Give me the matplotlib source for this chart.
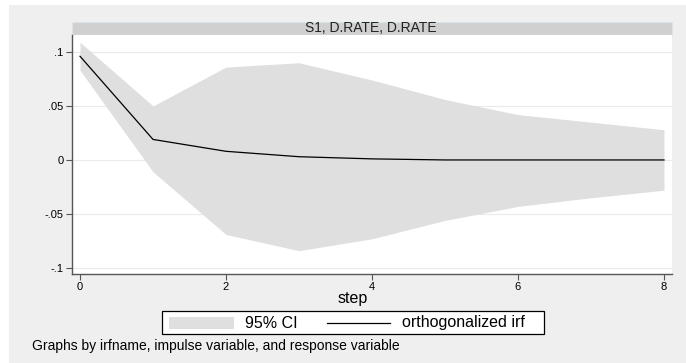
import matplotlib
matplotlib.use("Agg")
import matplotlib.pyplot as plt
from matplotlib.patches import Rectangle
from matplotlib.lines import Line2D

plt.rcParams['font.family'] = ['Liberation Sans', 'DejaVu Sans']

# ---- data ----
step = [0, 1, 2, 3, 4, 5, 6, 7, 8]
irf = [0.096, 0.019, 0.008, 0.003, 0.001, 0.0, 0.0, 0.0, 0.0]
ci_upper = [0.109, 0.050, 0.086, 0.090, 0.074, 0.056, 0.042, 0.035, 0.028]
ci_lower = [0.083, -0.011, -0.069, -0.084, -0.073, -0.056, -0.043, -0.035, -0.028]
yticks = [-0.1, -0.05, 0, 0.05, 0.1]
ytick_labels = ["-.1", "-.05", "0", ".05", ".1"]
xticks = [0, 2, 4, 6, 8]
panel_title = "S1, D.RATE, D.RATE"
xlabel = "step"
legend_labels = ["95% CI", "orthogonalized irf"]
note = "Graphs by irfname, impulse variable, and response variable"

W, H = 686, 363
fig = plt.figure(figsize=(W / 100, H / 100), dpi=100, facecolor="white")

# background overlay in pixel coordinates
bg = fig.add_axes([0, 0, 1, 1], zorder=0)
bg.set_xlim(0, W)
bg.set_ylim(H, 0)
bg.axis("off")
bg.add_patch(Rectangle((9, 5), W - 9, H - 5, facecolor="#efefef", edgecolor="none"))
# header strip
bg.add_patch(Rectangle((72, 22), 600, 13, facecolor="#d0d0d0", edgecolor="#dce3ea", lw=0.8))
bg.text(371, 28.5, panel_title, ha="center", va="center", fontsize=10, color="#222222")
# x label
bg.text(353, 298, xlabel, ha="center", va="center", fontsize=11.5, color="black")
# legend
bg.add_patch(Rectangle((162, 311), 382, 23, facecolor="white", edgecolor="black", lw=0.9))
bg.add_patch(Rectangle((169, 316.5), 65, 12.5, facecolor="#dfdfdf", edgecolor="none"))
bg.text(271.5, 323, legend_labels[0], ha="center", va="center", fontsize=11.5, color="black")
bg.add_line(Line2D([327, 390], [323, 323], color="black", lw=0.9))
bg.text(402, 323, legend_labels[1], ha="left", va="center", fontsize=11.5, color="black")
# note
bg.text(31.5, 346, note, ha="left", va="center", fontsize=10, color="black")

# plot axes
L, R, T, B = 72, 672, 35, 274
ax = fig.add_axes([L / W, 1 - B / H, (R - L) / W, (B - T) / H], zorder=1)
ax.set_facecolor("white")
ax.fill_between(step, ci_lower, ci_upper, color="#dfdfdf", lw=0, zorder=2)
ax.plot(step, irf, color="black", lw=0.9, zorder=3)
ax.set_xlim(-0.11, 8.11)
ax.set_ylim(-0.1056, 0.1157)
ax.set_yticks(yticks)
ax.set_yticklabels(ytick_labels)
ax.set_xticks(xticks)
for y in yticks:
    ax.axhline(y, color="#eaeaea", lw=0.8, zorder=1)
for s in ["top", "right"]:
    ax.spines[s].set_visible(False)
for s in ["left", "bottom"]:
    ax.spines[s].set_color("#555555")
    ax.spines[s].set_linewidth(1.0)
ax.tick_params(axis="both", direction="out", length=4, width=0.8, color="#555555",
               labelsize=8, pad=2)

fig.savefig("out.png", dpi=100, facecolor="white")
